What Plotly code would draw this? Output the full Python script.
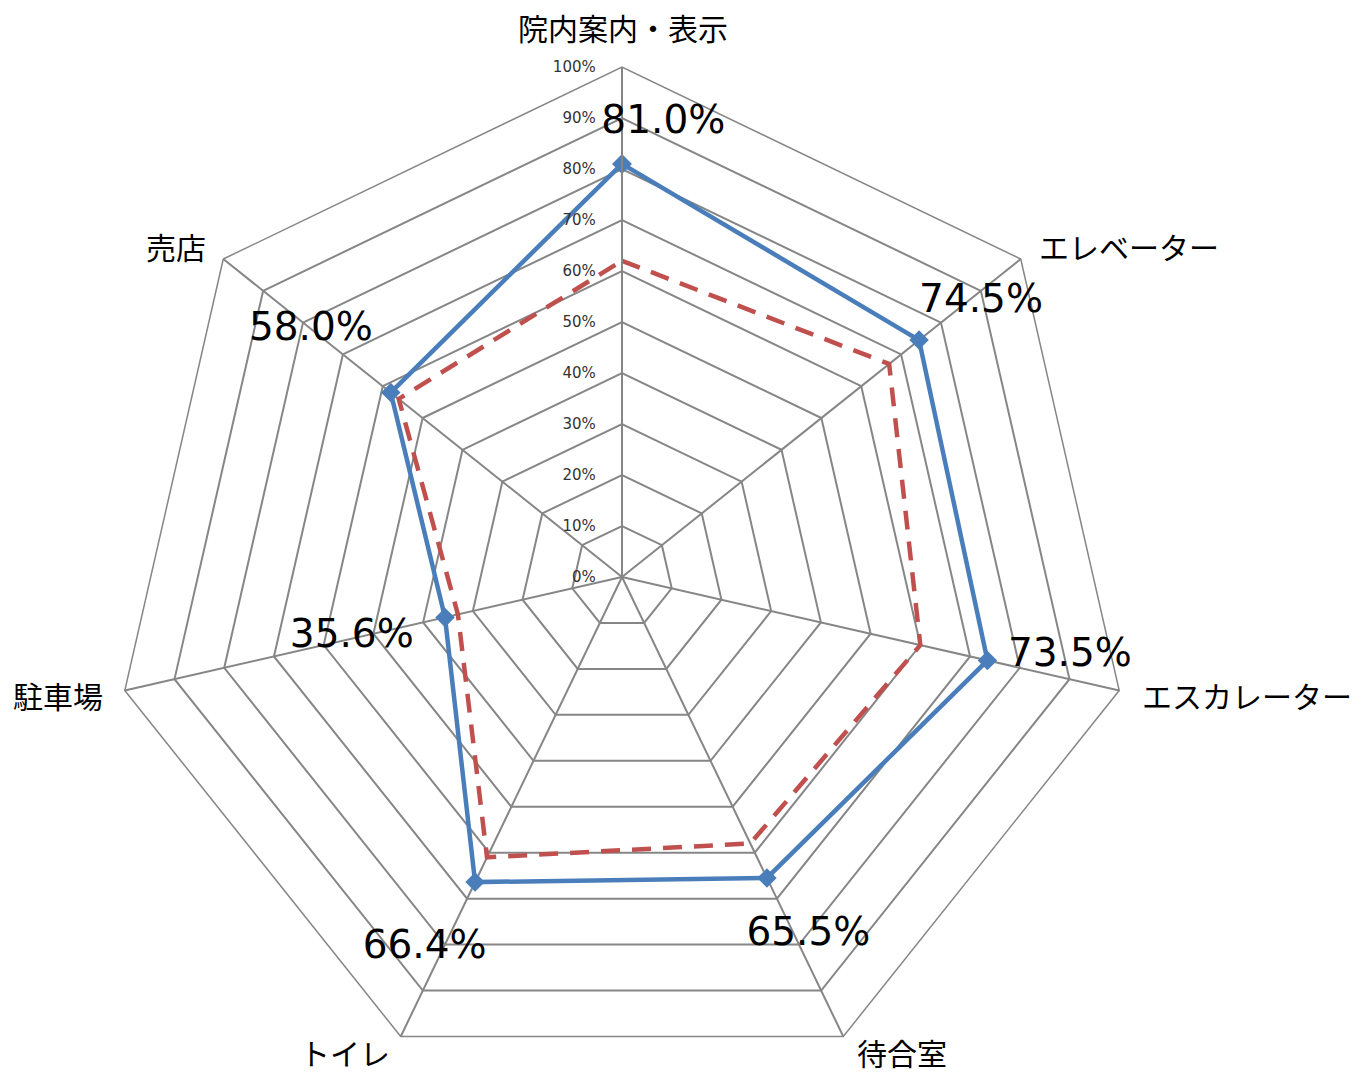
import math
import plotly.graph_objects as go

# Survey items (clockwise from the top)
categories = ["院内案内・表示", "エレベーター", "エスカレーター", "待合室", "トイレ", "駐車場", "売店"]

# Satisfaction rate (%) – current survey and previous survey
current = [81.0, 74.5, 73.5, 65.5, 66.4, 35.6, 58.0]
previous = [62.0, 67.0, 60.0, 58.0, 61.0, 33.0, 56.0]

radial_tickvals = [0, 10, 20, 30, 40, 50, 60, 70, 80, 90, 100]
radial_ticktext = ["0%", "10%", "20%", "30%", "40%", "50%", "60%", "70%", "80%", "90%", "100%"]

# ---- layout constants ----
W, H = 1368, 1090
CX, CY, R = 622, 577, 510          # centre and outer radius in px (from top-left)
GRID = "#868686"
BLUE = "#4A7EBB"
RED = "#C0504D"
JP_FONT = "Noto Sans CJK JP"
NUM_FONT = "DejaVu Sans"

# value-label placement: extra radius (in %) and angular nudge (deg)
label_dr = [8.4, 14.2, 15.7, 13.6, 16.0, 18.7, 19.9]
label_dtheta = [5.2, 1.1, -2.8, -1.8, 2.3, 0.2, -0.1]

# category-label placement relative to the outer vertex: anchor, x/y shift in px
cat_anchor = ["center", "left", "left", "left", "right", "right", "right"]
cat_dx = [1, 16, 21, 12, -9, -20, -15]
cat_dy = [40, 13, -5, -16, -16, -5, 13]

n = len(categories)
step = 360.0 / n
label_r = [v + d for v, d in zip(current, label_dr)]
label_theta = [i * step + d for i, d in enumerate(label_dtheta)]
label_text = [f"{v:.1f}%" for v in current]

domain_x = [(CX - R) / W, (CX + R) / W]
domain_y = [(H - CY - R) / H, (H - CY + R) / H]

fig = go.Figure()

# previous survey: red dashed polygon
fig.add_trace(go.Scatterpolar(
    r=previous + previous[:1],
    theta=categories + categories[:1],
    mode="lines",
    line=dict(color=RED, width=4.5, dash="19px,12px"),
    hoverinfo="skip",
    subplot="polar",
))

# current survey: blue line with diamond markers
fig.add_trace(go.Scatterpolar(
    r=current + current[:1],
    theta=categories + categories[:1],
    mode="lines+markers",
    line=dict(color=BLUE, width=4.5),
    marker=dict(symbol="diamond", size=15, color=BLUE),
    subplot="polar",
))

# value labels for the current survey
fig.add_trace(go.Scatterpolar(
    r=label_r,
    theta=label_theta,
    thetaunit="degrees",
    mode="text",
    text=label_text,
    textposition="middle center",
    textfont=dict(family=NUM_FONT, size=39, color="#000000"),
    hoverinfo="skip",
    subplot="polar2",
))

# category names just outside each outer vertex
annotations = []
for i, name in enumerate(categories):
    a = math.radians(i * step)
    vx = CX + R * math.sin(a)
    vy = CY - R * math.cos(a)
    annotations.append(dict(
        text=name,
        x=vx / W, y=(H - vy) / H,
        xref="paper", yref="paper",
        xanchor=cat_anchor[i], yanchor="middle",
        xshift=cat_dx[i], yshift=cat_dy[i],
        showarrow=False,
        font=dict(family=JP_FONT, size=30, color="#000000"),
    ))

fig.update_layout(
    width=W,
    height=H,
    margin=dict(l=0, r=0, t=0, b=0),
    paper_bgcolor="white",
    showlegend=False,
    annotations=annotations,
    polar=dict(
        domain=dict(x=domain_x, y=domain_y),
        gridshape="linear",
        bgcolor="white",
        angularaxis=dict(
            type="category",
            categoryarray=categories,
            direction="clockwise",
            rotation=90,
            showline=True,
            linecolor=GRID,
            linewidth=1.5,
            gridcolor=GRID,
            gridwidth=1.5,
            ticks="",
            showticklabels=False,
        ),
        radialaxis=dict(
            range=[0, 100],
            angle=90,
            side="counterclockwise",
            tickmode="array",
            tickvals=radial_tickvals,
            ticktext=radial_ticktext,
            tickangle=90,
            ticks="outside",
            ticklen=20,
            tickcolor="rgba(0,0,0,0)",
            showline=True,
            linecolor=GRID,
            linewidth=2,
            gridcolor=GRID,
            gridwidth=1.5,
            tickfont=dict(family=NUM_FONT, size=15, color="#333333"),
        ),
    ),
    polar2=dict(
        domain=dict(x=domain_x, y=domain_y),
        bgcolor="rgba(0,0,0,0)",
        angularaxis=dict(visible=False, direction="clockwise", rotation=90),
        radialaxis=dict(visible=False, range=[0, 100]),
    ),
)

fig.write_html(
    "out.html",
    post_script="document.documentElement.style.overflow='hidden';document.body.style.overflow='hidden';document.body.style.margin='0';",
)
